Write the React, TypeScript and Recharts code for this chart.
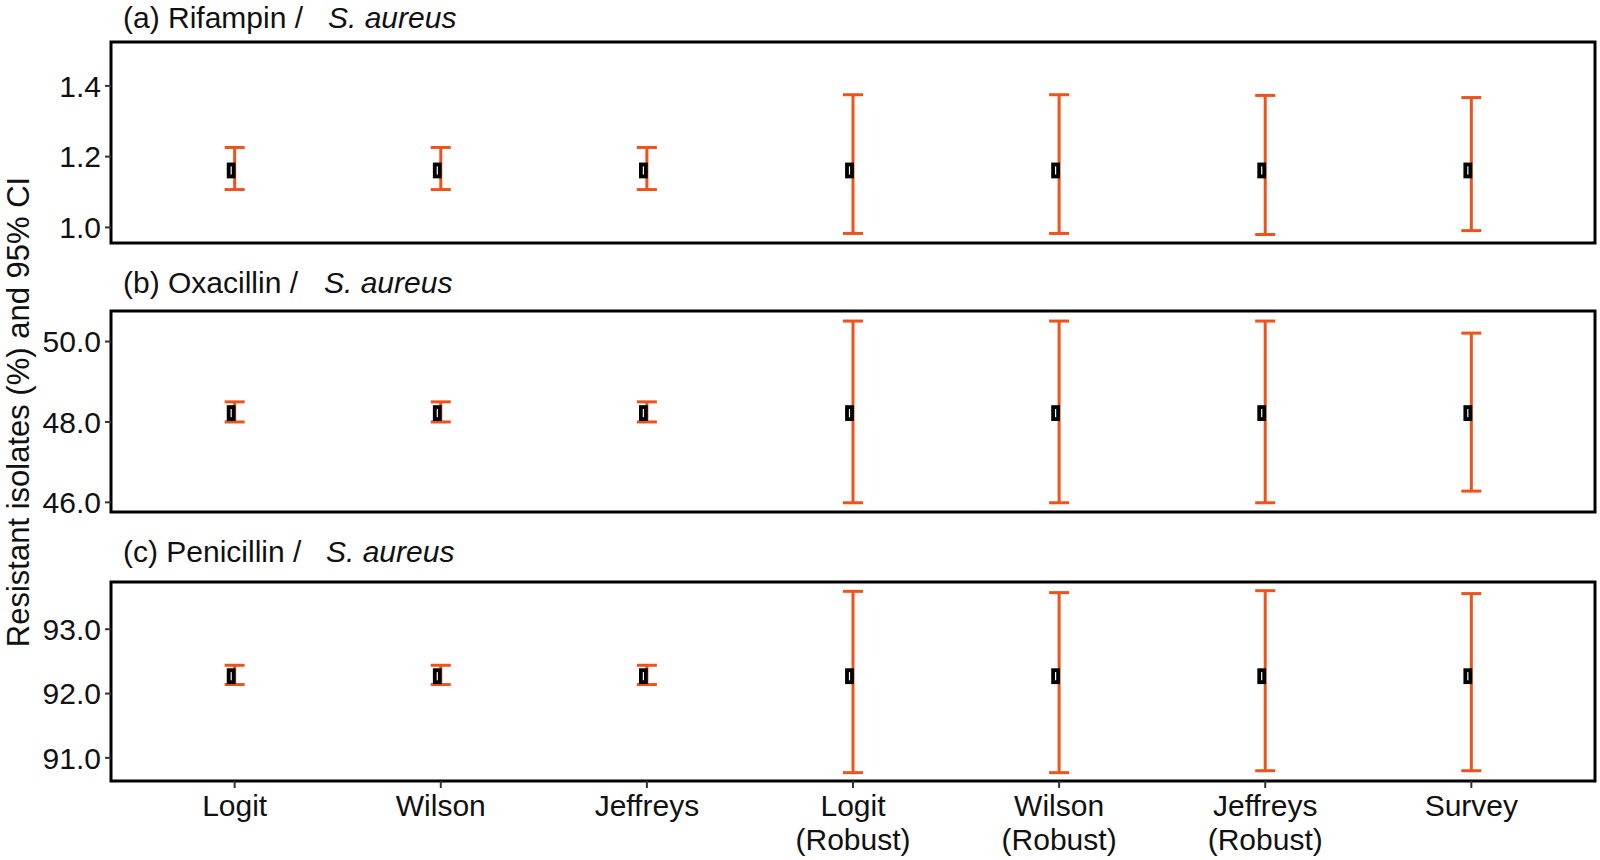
import React from 'react';
import { ScatterChart, Scatter, XAxis, YAxis, ErrorBar, ReferenceArea } from 'recharts';

const FONT = '"Liberation Sans", Arial, Helvetica, sans-serif';
const ORANGE = '#F0521C';

// categories
const methodPos = [1, 2, 3, 4, 5, 6, 7];
const methodNames = ['Logit', 'Wilson', 'Jeffreys', 'Logit', 'Wilson', 'Jeffreys', 'Survey'];
const methodSub = ['', '', '', '(Robust)', '(Robust)', '(Robust)', ''];

// (a) Rifampin
const rifEst = [1.161, 1.161, 1.161, 1.161, 1.161, 1.161, 1.161];
const rifLo = [1.107, 1.107, 1.107, 0.983, 0.983, 0.98, 0.991];
const rifHi = [1.226, 1.226, 1.226, 1.375, 1.375, 1.373, 1.367];
const rifTicks = [1.0, 1.2, 1.4];
const rifDomain = [0.956, 1.524];

// (b) Oxacillin
const oxaEst = [48.22, 48.22, 48.22, 48.22, 48.22, 48.22, 48.22];
const oxaLo = [48.0, 48.0, 48.0, 45.99, 45.99, 45.99, 46.28];
const oxaHi = [48.5, 48.5, 48.5, 50.51, 50.51, 50.51, 50.21];
const oxaTicks = [46, 48, 50];
const oxaDomain = [45.76, 50.76];

// (c) Penicillin
const penEst = [92.27, 92.27, 92.27, 92.27, 92.27, 92.27, 92.27];
const penLo = [92.14, 92.14, 92.14, 90.77, 90.77, 90.8, 90.8];
const penHi = [92.44, 92.44, 92.44, 93.59, 93.57, 93.6, 93.555];
const penTicks = [91, 92, 93];
const penDomain = [90.64, 93.735];

const xDomain = [0.4, 7.6];

function buildRows(est: number[], lo: number[], hi: number[]) {
  return methodPos.map((x, i) => ({ x, y: est[i], err: [est[i] - lo[i], hi[i] - est[i]] }));
}

const HollowMark = (props: any) => {
  const { cx, cy } = props;
  if (cx == null || cy == null) return <g />;
  return <rect x={cx - 6} y={cy - 6} width={5} height={12} fill="#fff" stroke="#000" strokeWidth={3.8} />;
};

const MethodTick = (props: any) => {
  const { x, y, payload } = props;
  const i = Math.round(payload.value) - 1;
  return (
    <g transform={`translate(${x},${y})`}>
      <text textAnchor="middle" fontSize={30} fill="#111" fontFamily={FONT}>
        <tspan x={0} dy={28}>{methodNames[i]}</tspan>
        {methodSub[i] ? <tspan x={0} dy={34}>{methodSub[i]}</tspan> : null}
      </text>
    </g>
  );
};

interface PanelProps {
  rows: { x: number; y: number; err: number[] }[];
  domain: number[];
  ticks: number[];
  top: number;
  height: number;
  marginTop: number;
  marginBottom: number;
  showX?: boolean;
}

function Panel({ rows, domain, ticks, top, height, marginTop, marginBottom, showX }: PanelProps) {
  return (
    <div style={{ position: 'absolute', left: 0, top }}>
      <ScatterChart width={1600} height={height} margin={{ top: marginTop, right: 5, bottom: marginBottom, left: 11 }}>
        <XAxis
          type="number"
          dataKey="x"
          domain={xDomain}
          ticks={methodPos}
          allowDataOverflow
          hide={!showX}
          height={70}
          axisLine={false}
          tickLine={{ stroke: '#333', strokeWidth: 2 }}
          tickSize={7}
          tickMargin={0}
          interval={0}
          tick={<MethodTick />}
        />
        <YAxis
          type="number"
          dataKey="y"
          domain={domain}
          ticks={ticks}
          allowDataOverflow
          width={100}
          axisLine={false}
          tickLine={{ stroke: '#333', strokeWidth: 2 }}
          tickSize={6}
          tickMargin={4}
          tickFormatter={(v: number) => v.toFixed(1)}
          tick={{ fontSize: 30, fill: '#111', fontFamily: FONT }}
        />
        <ReferenceArea
          x1={xDomain[0]}
          x2={xDomain[1]}
          y1={domain[0]}
          y2={domain[1]}
          fill="none"
          fillOpacity={0}
          stroke="#000"
          strokeWidth={3}
          ifOverflow="visible"
        />
        <Scatter data={rows} shape={<HollowMark />} isAnimationActive={false} />
        <Scatter data={rows} shape={() => <g />} isAnimationActive={false}>
          <ErrorBar dataKey="err" direction="y" width={10} stroke={ORANGE} strokeWidth={3} isAnimationActive={false} />
        </Scatter>
      </ScatterChart>
    </div>
  );
}

export default function App() {
  return (
    <div style={{ position: 'absolute', left: 0, top: 0, width: 1600, height: 860, background: '#fff', overflow: 'hidden' }}>
      <Panel rows={buildRows(rifEst, rifLo, rifHi)} domain={rifDomain} ticks={rifTicks} top={0} height={260} marginTop={42} marginBottom={17} />
      <Panel rows={buildRows(oxaEst, oxaLo, oxaHi)} domain={oxaDomain} ticks={oxaTicks} top={260} height={270} marginTop={51} marginBottom={18} />
      <Panel rows={buildRows(penEst, penLo, penHi)} domain={penDomain} ticks={penTicks} top={530} height={330} marginTop={52} marginBottom={9} showX />
      <svg width={1600} height={860} style={{ position: 'absolute', left: 0, top: 0, pointerEvents: 'none' }}>
        <g fontFamily={FONT} fontSize={30} fill="#111">
          <text x={123} y={28}>(a) Rifampin /<tspan x={328} fontStyle="italic">S. aureus</tspan></text>
          <text x={123} y={293}>(b) Oxacillin /<tspan x={324} fontStyle="italic">S. aureus</tspan></text>
          <text x={123} y={562}>(c) Penicillin /<tspan x={326} fontStyle="italic">S. aureus</tspan></text>
          <text transform="translate(29,412) rotate(-90)" textAnchor="middle" fontSize={31}>Resistant isolates (%) and 95% CI</text>
        </g>
      </svg>
    </div>
  );
}
